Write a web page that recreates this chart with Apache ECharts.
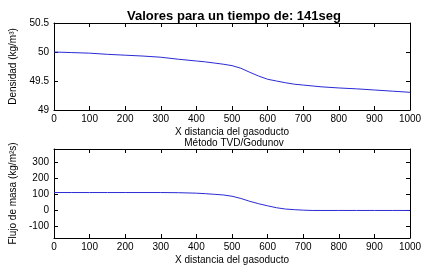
<!DOCTYPE html>
<html>
<head>
<meta charset="utf-8">
<script src="https://cdn.jsdelivr.net/npm/echarts@6/dist/echarts.min.js"></script>
<style>
html,body{margin:0;padding:0;background:#fff;}
#container{width:432px;height:273px;}
</style>
</head>
<body>
<div id="container"></div>
<script>
// distancia a lo largo del gasoducto
var distX = [0,50,100,150,200,250,300,350,400,425,450,475,500,525,550,575,600,625,650,675,700,725,750,800,850,900,950,1000];
var densidad = [50.00,49.99,49.98,49.96,49.945,49.93,49.91,49.875,49.845,49.83,49.81,49.79,49.765,49.72,49.65,49.585,49.53,49.50,49.47,49.445,49.43,49.415,49.40,49.38,49.365,49.345,49.325,49.305];
var flujo = [112,112,112,112,112,112,112,111,108,105,101,97,89,75,57,42,29,17,9,5,2,0,0,0,0,0,0,0];
var flujoTicks = [-100,0,100,200,300];

function pares(ys){
	var out=[];
	for(var i=0;i<distX.length;i++){
		out.push([distX[i],ys[i]]);
	}
	return out;
}

var font = 'Liberation Sans';
var myChart = echarts.init(document.getElementById('container'));

function ejeX(grid, top, nombre){
	return {
		type:'value', gridIndex:grid, min:0, max:1000, interval:100,
		position: top ? 'top' : 'bottom',
		name: top ? '' : nombre, nameLocation:'middle', nameGap:17,
		nameTextStyle:{color:'#000',fontFamily:font,fontSize:10},
		axisLine:{show:true,onZero:false,lineStyle:{color:'#000',width:1}},
		axisTick:{show:true,inside:true,length:4,lineStyle:{color:'#000'}},
		axisLabel:{show:!top,color:'#000',fontFamily:font,fontSize:10,margin:4,
			formatter:function(v){return String(v);}},
		splitLine:{show:false}
	};
}

option = {
	animation:false,
	backgroundColor:'#fff',
	title:[
		{text:'Valores para un tiempo de: 141seg',left:229,top:5,textAlign:'center',
		 textStyle:{fontFamily:font,fontSize:13,fontWeight:'bold',color:'#000'}},
		{text:'Método TVD/Godunov',left:229,top:133,textAlign:'center',
		 textStyle:{fontFamily:font,fontSize:10,fontWeight:'normal',color:'#000'}}
	],
	grid:[
		{left:48,top:23,width:362,height:87},
		{left:48,top:149,width:362,height:89}
	],
	xAxis:[
		ejeX(0,false,'X distancia del gasoducto'),
		ejeX(0,true,''),
		ejeX(1,false,'X distancia del gasoducto'),
		ejeX(1,true,'')
	],
	yAxis:[
		{type:'value',gridIndex:0,min:49,max:50.5,interval:0.5,
		 name:'Densidad (kg/m³)',nameLocation:'middle',nameGap:36,nameRotate:90,
		 nameTextStyle:{color:'#000',fontFamily:font,fontSize:10},
		 axisLine:{show:true,onZero:false,lineStyle:{color:'#000'}},
		 axisTick:{show:true,inside:true,length:4,lineStyle:{color:'#000'}},
		 axisLabel:{color:'#000',fontFamily:font,fontSize:10,margin:5},
		 splitLine:{show:false}},
		{type:'value',gridIndex:0,min:49,max:50.5,interval:0.5,position:'right',
		 axisLine:{show:true,onZero:false,lineStyle:{color:'#000'}},
		 axisTick:{show:true,inside:true,length:4,lineStyle:{color:'#000'}},
		 axisLabel:{show:false},splitLine:{show:false}},
		{type:'value',gridIndex:1,min:-172,max:384,
		 name:'Flujo de masa (kg/m²s)',nameLocation:'middle',nameGap:36,nameRotate:90,
		 nameTextStyle:{color:'#000',fontFamily:font,fontSize:10},
		 axisLine:{show:true,onZero:false,lineStyle:{color:'#000'}},
		 axisTick:{show:true,inside:true,length:4,customValues:flujoTicks,lineStyle:{color:'#000'}},
		 axisLabel:{color:'#000',fontFamily:font,fontSize:10,margin:5,customValues:flujoTicks},
		 splitLine:{show:false}},
		{type:'value',gridIndex:1,min:-172,max:384,position:'right',
		 axisLine:{show:true,onZero:false,lineStyle:{color:'#000'}},
		 axisTick:{show:true,inside:true,length:4,customValues:flujoTicks,lineStyle:{color:'#000'}},
		 axisLabel:{show:false},splitLine:{show:false}}
	],
	series:[
		{type:'line',xAxisIndex:0,yAxisIndex:0,data:pares(densidad),
		 showSymbol:false,smooth:false,
		 lineStyle:{color:'#2a2ad4',width:1}},
		{type:'line',xAxisIndex:2,yAxisIndex:2,data:pares(flujo),
		 showSymbol:false,smooth:false,
		 lineStyle:{color:'#2a2ad4',width:1}}
	]
};
myChart.setOption(option);
</script>
</body>
</html>
